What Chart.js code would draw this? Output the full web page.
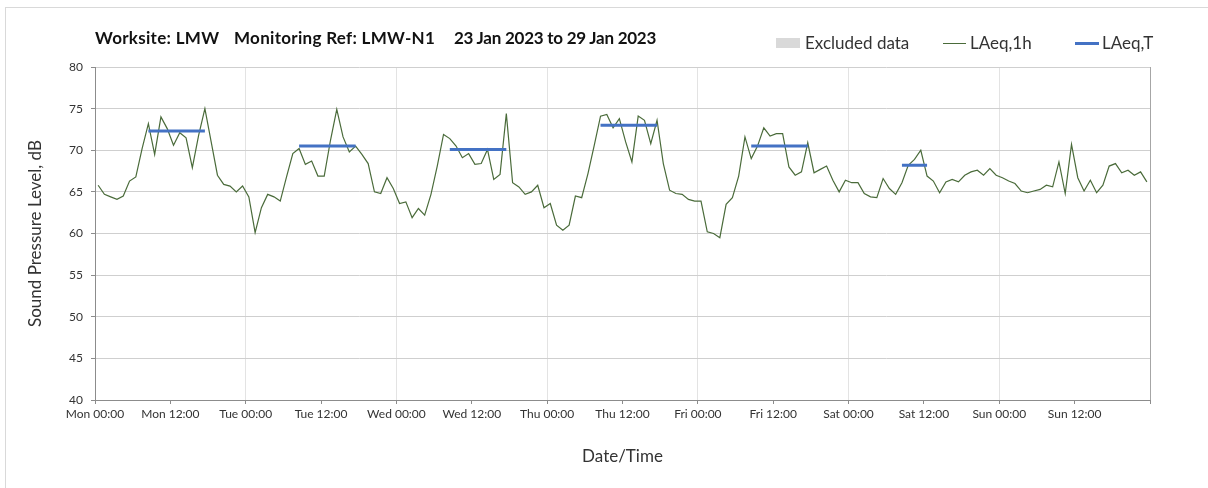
<!DOCTYPE html>
<html>
<head>
<meta charset="utf-8">
<title>LMW-N1 noise monitoring</title>
<script src="https://cdn.jsdelivr.net/npm/chart.js@4.4.0/dist/chart.umd.min.js"></script>
<style>
    html, body { margin: 0; padding: 0; background: #fff; }
    #wrap { position: relative; width: 1208px; height: 488px; overflow: hidden; font-family: Lato, 'Open Sans', sans-serif; color: #222; }
    #frame { position: absolute; left: 5px; top: 7px; width: 1210px; height: 490px; border-left: 1px solid #d9d9d9; border-top: 1px solid #d9d9d9; }
    #chart { position: absolute; left: 0; top: 0; }
    .ttl { position: absolute; top: 28px; font-weight: bold; font-size: 17px; letter-spacing: 0.3px; line-height: 20px; white-space: nowrap; color: #111; }
    .lg-text { position: absolute; top: 33px; font-size: 17px; line-height: 20px; white-space: nowrap; color: #333; }
    .lg-mark { position: absolute; }
</style>
</head>
<body>
<div id="wrap">
    <div id="frame"></div>
    <canvas id="chart" width="1208" height="488"></canvas>
    <div class="ttl" style="left:95px">Worksite: LMW</div>
    <div class="ttl" style="left:234px">Monitoring Ref: LMW-N1</div>
    <div class="ttl" style="left:454px;letter-spacing:-0.25px">23 Jan 2023 to 29 Jan 2023</div>
    <div class="lg-mark" style="left:776px;top:38px;width:24px;height:10px;background:#d9d9d9"></div>
    <div class="lg-text" style="left:805px">Excluded data</div>
    <div class="lg-mark" style="left:943px;top:43px;width:23px;height:1px;background:#4a6b3a"></div>
    <div class="lg-text" style="left:970px">LAeq,1h</div>
    <div class="lg-mark" style="left:1075px;top:42px;width:24px;height:3px;background:#4472c4"></div>
    <div class="lg-text" style="left:1102px">LAeq,T</div>
</div>
<script>
// x axis tick labels, one every 12 hours
const tickLabels = ['Mon 00:00', 'Mon 12:00', 'Tue 00:00', 'Tue 12:00', 'Wed 00:00', 'Wed 12:00',
    'Thu 00:00', 'Thu 12:00', 'Fri 00:00', 'Fri 12:00', 'Sat 00:00', 'Sat 12:00', 'Sun 00:00', 'Sun 12:00'];

// LAeq,1h per hour (00:00 .. 23:00), dB
const mon = [65.8, 64.7, 64.4, 64.1, 64.5, 66.3, 66.8, 70.2, 73.2, 69.5, 74.0, 72.6,
             70.6, 72.1, 71.5, 67.9, 71.8, 75.0, 71.0, 67.0, 65.9, 65.7, 65.0, 65.7];
const tue = [64.4, 60.1, 63.1, 64.7, 64.4, 63.9, 66.8, 69.6, 70.2, 68.3, 68.7, 66.9,
             66.9, 71.2, 74.9, 71.6, 69.8, 70.5, 69.5, 68.4, 65.0, 64.8, 66.7, 65.4];
const wed = [63.6, 63.8, 61.9, 63.0, 62.2, 64.7, 68.1, 71.9, 71.4, 70.5, 69.1, 69.6,
             68.3, 68.4, 70.1, 66.5, 67.1, 74.4, 66.1, 65.6, 64.7, 65.0, 65.8, 63.1];
const thu = [63.6, 61.0, 60.4, 61.0, 64.5, 64.3, 67.2, 70.6, 74.1, 74.3, 72.7, 73.8,
             71.0, 68.6, 74.1, 73.6, 70.8, 73.6, 68.4, 65.2, 64.8, 64.7, 64.1, 63.9];
const fri = [63.9, 60.2, 60.0, 59.5, 63.5, 64.3, 66.9, 71.6, 69.0, 70.5, 72.7, 71.7,
             72.0, 72.0, 68.0, 67.0, 67.4, 70.9, 67.3, 67.7, 68.1, 66.4, 65.0, 66.4];
const sat = [66.1, 66.1, 64.8, 64.4, 64.3, 66.6, 65.4, 64.7, 66.1, 68.2, 68.9, 70.0,
             66.9, 66.3, 64.9, 66.2, 66.5, 66.2, 67.0, 67.4, 67.6, 67.0, 67.8, 67.0];
const sun = [66.7, 66.3, 66.0, 65.1, 64.9, 65.1, 65.3, 65.8, 65.6, 68.6, 64.8, 70.7,
             66.7, 65.1, 66.4, 64.9, 65.8, 68.1, 68.4, 67.3, 67.6, 67.0, 67.4, 66.2];

// LAeq,T working periods: first and last hour index of the week, level in dB
const periodStart = [8, 32, 56, 80, 104, 128];
const periodEnd = [17, 41, 65, 89, 113, 132];
const periodLevel = [72.3, 70.5, 70.1, 73.0, 70.5, 68.2];

const hourly = [...mon, ...tue, ...wed, ...thu, ...fri, ...sat, ...sun];

// points sit in the middle of their hour slot
const hourlyPoints = hourly.map((v, i) => ({ x: i + 0.5, y: v }));
const periodPoints = [];
periodLevel.forEach((lvl, k) => {
    periodPoints.push({ x: periodStart[k] + 0.5, y: lvl });
    periodPoints.push({ x: periodEnd[k] + 0.5, y: lvl });
    periodPoints.push({ x: periodEnd[k] + 1, y: null });
});

const axisColor = '#8c8c8c';
const textColor = '#333';

new Chart(document.getElementById('chart'), {
    type: 'line',
    data: {
        datasets: [
            {
                label: 'LAeq,T',
                data: periodPoints,
                borderColor: '#4472c4',
                borderWidth: 3,
                pointRadius: 0,
                spanGaps: false
            },
            {
                label: 'LAeq,1h',
                data: hourlyPoints,
                borderColor: '#4a6b3a',
                borderWidth: 1.2,
                pointRadius: 0,
                tension: 0
            }
        ]
    },
    options: {
        responsive: false,
        animation: false,
        layout: { padding: { top: 67, right: 58, bottom: 0, left: 0 } },
        plugins: {
            legend: { display: false },
            tooltip: { enabled: false }
        },
        scales: {
            x: {
                type: 'linear',
                min: 0,
                max: 168,
                afterBuildTicks: (s) => {
                    s.ticks = Array.from({ length: 15 }, (_, i) => ({ value: i * 12 }));
                },
                afterFit: (s) => { s.height = 88; },
                ticks: {
                    autoSkip: false,
                    maxRotation: 0,
                    padding: 3,
                    color: textColor,
                    font: { family: 'Lato', size: 12 },
                    callback: (v) => tickLabels[v / 12] || ''
                },
                grid: {
                    color: (c) => {
                        const v = c.tick ? c.tick.value : 0;
                        if (v === 168) return '#a6a6a6';
                        return (v > 0 && v % 24 === 0) ? '#e3e3e3' : 'rgba(0,0,0,0)';
                    },
                    tickColor: axisColor,
                    tickLength: 4
                },
                border: { color: axisColor },
                title: {
                    display: true,
                    text: 'Date/Time',
                    color: textColor,
                    font: { family: 'Lato', size: 17 },
                    padding: { top: 0, bottom: 21 }
                }
            },
            y: {
                min: 40,
                max: 80,
                afterFit: (s) => { s.width = 95; },
                ticks: {
                    stepSize: 5,
                    padding: 8,
                    color: textColor,
                    font: { family: 'Lato', size: 12 }
                },
                grid: { color: '#cfcfcf', tickColor: axisColor, tickLength: 4 },
                border: { color: axisColor },
                title: {
                    display: true,
                    text: 'Sound Pressure Level, dB',
                    color: textColor,
                    font: { family: 'Lato', size: 17 },
                    padding: { top: 25, bottom: 0 }
                }
            }
        }
    }
});
</script>
</body>
</html>
